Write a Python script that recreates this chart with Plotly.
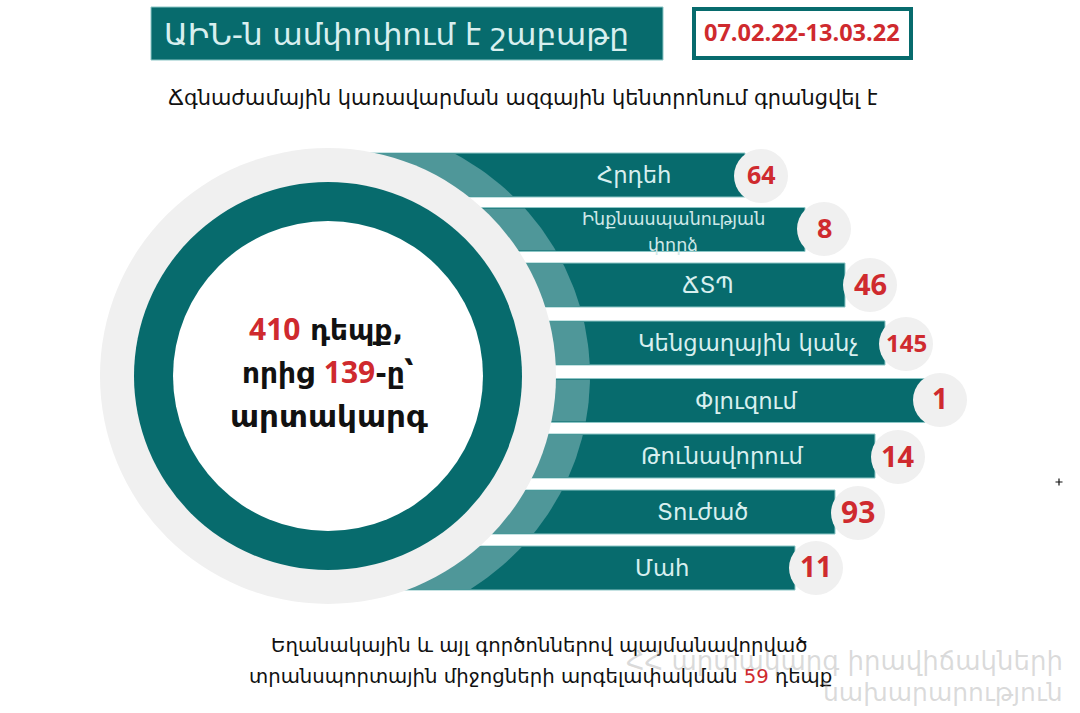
import numpy as np
import plotly.graph_objects as go

# values read from the infographic
categories = ["Հրդեհ", "Ինքնասպանության<br>փորձ", "ՃՏՊ", "Կենցաղային կանչ", "Փլուզում", "Թունավորում", "Տուժած", "Մահ"]
counts = [64, 8, 46, 145, 1, 14, 93, 11]
title_text = "ԱԻՆ-ն ամփոփում է շաբաթը"
date_text = "07.02.22-13.03.22"
subtitle_text = "Ճգնաժամային կառավարման ազգային կենտրոնում գրանցվել է"
total_cases = 410
urgent_cases = 139
blocked_cases = 59

# layout of the picture, in pixels
bar_y = [175, 229.5, 285, 343, 400.5, 456, 512, 568]
bar_end = [745, 805, 845, 885, 925, 875, 835, 795]
label_x = [634, 673, 708, 748, 746, 722, 702, 662]
badge_x = [761, 824, 870, 906, 940, 898, 858, 816]
badge_y = [176, 229, 285, 344, 400, 457, 513, 568]
count_size = [25, 27, 29, 24, 28, 29, 30, 28]
BAR_H = 44
CX, CY = 328, 376
TEAL = "#076b6d"
LIGHT = "#4f9799"
EDGE = "#8cc6c6"
GREY = "#f0f0f0"
RED = "#cf2a2e"
FONT = "Open Sans, DejaVu Sans, sans-serif"
ARM = "DejaVu Sans, sans-serif"

fig = go.Figure()
fig.add_trace(go.Bar(
    y=bar_y, base=[CX] * len(bar_end), x=[e - CX for e in bar_end], orientation="h", width=BAR_H,
    marker=dict(color=TEAL, line=dict(color=EDGE, width=1)), hoverinfo="skip",
))

# lighter band that runs across the bars around the grey ring
for y in bar_y:
    ys = np.linspace(y - BAR_H / 2 + 1, y + BAR_H / 2 - 1, 12)
    xs = CX + 262 * np.sqrt(1 - ((ys - CY) / 254) ** 2)
    fig.add_trace(go.Scatter(
        x=[CX, *xs, CX], y=[ys[0], *ys, ys[-1]], mode="lines", fill="toself",
        fillcolor=LIGHT, line=dict(width=0), hoverinfo="skip",
    ))

# stray mark at the right of the picture
fig.add_trace(go.Scatter(x=[1059], y=[482], mode="markers", hoverinfo="skip",
                         marker=dict(symbol="cross-thin", size=5, line=dict(color="#111", width=1.2))))


def ring(r, color):
    return dict(type="circle", layer="above", x0=CX - r, x1=CX + r, y0=CY - r, y1=CY + r,
                fillcolor=color, line=dict(width=0))


shapes = [
    ring(228, GREY), ring(194, TEAL), ring(155, "white"),
    dict(type="rect", x0=151, x1=663, y0=7, y1=60, fillcolor=TEAL, line=dict(color=EDGE, width=1), layer="above"),
    dict(type="rect", x0=694, x1=911, y0=9, y1=58, fillcolor="white", line=dict(color=TEAL, width=4), layer="above"),
]
for bx, by in zip(badge_x, badge_y):
    shapes.append(dict(type="circle", layer="above", x0=bx - 27, x1=bx + 27, y0=by - 27, y1=by + 27,
                       fillcolor=GREY, line=dict(width=0)))


def note(x, y, text, size, color="#111", family=ARM, xanchor="center"):
    return dict(x=x, y=y, text=text, showarrow=False, xanchor=xanchor, yanchor="middle",
                font=dict(size=size, color=color, family=family))


def red_num(value):
    return f'<span style="color:{RED};font-size:30px;font-family:Open Sans">{value}</span>'


annotations = [
    note(396, 34, title_text, 31, "#d8efef"),
    note(802, 32, f"<b>{date_text}</b>", 23.5, RED, FONT),
    note(523, 98, subtitle_text, 20.9),
    note(326, 328, f"<b>{red_num(total_cases)} դեպք,</b>", 28),
    note(328, 371, f"<b>որից {red_num(urgent_cases)}-ը՝</b>", 28),
    note(329, 416, "<b>արտակարգ</b>", 31),
    note(539, 645, "Եղանակային և այլ գործոններով պայմանավորված", 19.7),
    note(540, 676, f'տրանսպորտային միջոցների արգելափակման <span style="color:{RED}">{blocked_cases}</span> դեպք', 19.7),
    note(1065, 661, "ՀՀ արտակարգ իրավիճակների", 26, "rgba(150,150,150,0.35)", xanchor="right"),
    note(1065, 692, "նախարարություն", 25, "rgba(150,150,150,0.35)", xanchor="right"),
]
for name, lx, y in zip(categories, label_x, bar_y):
    if "<br>" in name:
        first, second = name.split("<br>")
        annotations.append(note(lx, y - 11, first, 17.5, "#cfe8e8"))
        annotations.append(note(lx, y + 15, second, 17.5, "#cfe8e8"))
    else:
        annotations.append(note(lx, y, name, 22.7, "#d8efef"))
for value, size, bx, by in zip(counts, count_size, badge_x, badge_y):
    annotations.append(note(bx, by - 2, f"<b>{value}</b>", size, RED, FONT))

fig.update_layout(
    width=1080, height=713, margin=dict(l=0, r=0, t=0, b=0), showlegend=False,
    paper_bgcolor="white", plot_bgcolor="white", shapes=shapes, annotations=annotations,
    xaxis=dict(range=[0, 1080], visible=False, fixedrange=True),
    yaxis=dict(range=[713, 0], visible=False, fixedrange=True),
)

fig.write_html("out.html", post_script="document.body.style.margin='0';", config={"displayModeBar": False})
